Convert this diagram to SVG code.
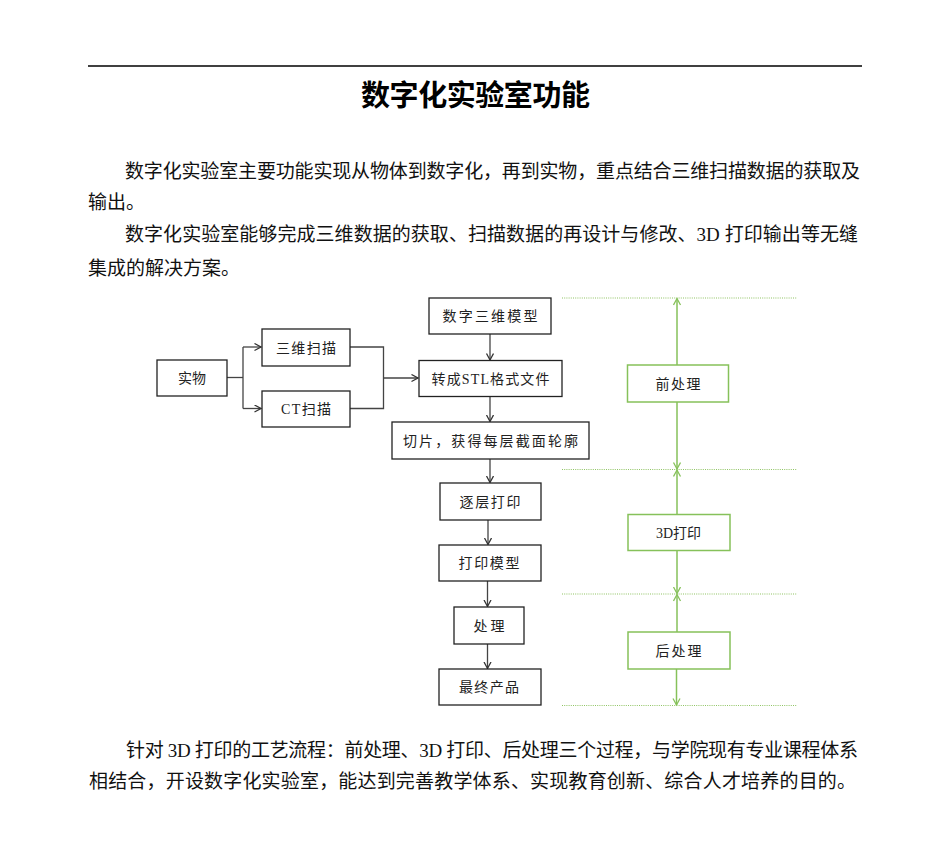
<svg xmlns="http://www.w3.org/2000/svg" width="950" height="856" viewBox="0 0 950 856">
<defs>
<style>
.body{font-family:"Liberation Serif","Noto Sans CJK SC",serif;font-size:19px;fill:#111;}
.title{font-family:"Noto Sans CJK SC",sans-serif;font-size:29px;font-weight:bold;fill:#000;}
.box{fill:#fff;stroke:#222;stroke-width:1.3;}
.gbox{fill:#fff;stroke:#86c15a;stroke-width:1.5;}
.lbl{font-family:"Liberation Serif","Noto Sans CJK SC",serif;font-size:14px;fill:#222;text-anchor:middle;}
.con{fill:none;stroke:#444;stroke-width:1.3;}
.gcon{fill:none;stroke:#86c15a;stroke-width:1.5;}
.dot{fill:none;stroke:#8fc463;stroke-width:1.2;stroke-dasharray:1 1.2;}
</style>
<marker id="ah" markerUnits="userSpaceOnUse" markerWidth="10" markerHeight="10" refX="7" refY="4" orient="auto">
<path d="M0.5,0.5 L7,4 L0.5,7.5" fill="none" stroke="#333" stroke-width="1.3"/>
</marker>
<marker id="gh" markerUnits="userSpaceOnUse" markerWidth="10" markerHeight="10" refX="7" refY="4" orient="auto-start-reverse">
<path d="M0.5,0.5 L7,4 L0.5,7.5" fill="none" stroke="#86c15a" stroke-width="1.3"/>
</marker>
</defs>
<rect width="950" height="856" fill="#fff"/>
<line x1="88" y1="66" x2="862" y2="66" stroke="#000" stroke-width="1.5"/>
<text class="title" x="475.5" y="106" text-anchor="middle" textLength="229" lengthAdjust="spacing">数字化实验室功能</text>
<g id="text">
<text class="body" x="125" y="178" textLength="735" lengthAdjust="spacing">数字化实验室主要功能实现从物体到数字化，再到实物，重点结合三维扫描数据的获取及</text>
<text class="body" x="88" y="209">输出。</text>
<text class="body" x="125" y="241" textLength="733" lengthAdjust="spacing">数字化实验室能够完成三维数据的获取、扫描数据的再设计与修改、3D 打印输出等无缝</text>
<text class="body" x="88" y="275">集成的解决方案。</text>
<text class="body" x="126" y="757" textLength="732" lengthAdjust="spacing">针对 3D 打印的工艺流程：前处理、3D 打印、后处理三个过程，与学院现有专业课程体系</text>
<text class="body" x="89" y="788" textLength="767" lengthAdjust="spacing">相结合，开设数字化实验室，能达到完善教学体系、实现教育创新、综合人才培养的目的。</text>
</g>
<g id="guides">
<line class="dot" x1="562" y1="298" x2="797" y2="298"/>
<line class="dot" x1="562" y1="469.5" x2="797" y2="469.5"/>
<line class="dot" x1="562" y1="594" x2="797" y2="594"/>
<line class="dot" x1="562" y1="705.5" x2="797" y2="705.5"/>
</g>
<g id="connectors">
<polyline class="con" points="227,377.5 243,377.5"/>
<polyline class="con" points="243,347 243,408.5"/>
<line class="con" x1="243" y1="347" x2="261" y2="347" marker-end="url(#ah)"/>
<line class="con" x1="243" y1="408.5" x2="261" y2="408.5" marker-end="url(#ah)"/>
<polyline class="con" points="350,347 383.5,347 383.5,408.5 350,408.5"/>
<line class="con" x1="383.5" y1="378" x2="418" y2="378" stroke-width="1.8" marker-end="url(#ah)"/>
<line class="con" x1="490" y1="334" x2="490" y2="360" marker-end="url(#ah)"/>
<line class="con" x1="490" y1="397" x2="490" y2="421.5" marker-end="url(#ah)"/>
<line class="con" x1="490" y1="459" x2="490" y2="482.5" marker-end="url(#ah)"/>
<line class="con" x1="488" y1="520" x2="488" y2="544.5" marker-end="url(#ah)"/>
<line class="con" x1="487.5" y1="581" x2="487.5" y2="606.5" marker-end="url(#ah)"/>
<line class="con" x1="487.5" y1="644" x2="487.5" y2="668.5" marker-end="url(#ah)"/>
<line class="gcon" x1="677" y1="365" x2="677" y2="298.5" marker-end="url(#gh)"/>
<line class="gcon" x1="677" y1="402" x2="677" y2="469" marker-end="url(#gh)"/>
<line class="gcon" x1="677" y1="514.5" x2="677" y2="470" marker-end="url(#gh)"/>
<line class="gcon" x1="677" y1="550.5" x2="677" y2="593.5" marker-end="url(#gh)"/>
<line class="gcon" x1="677" y1="632" x2="677" y2="594.5" marker-end="url(#gh)"/>
<line class="gcon" x1="676.5" y1="669" x2="676.5" y2="705" marker-end="url(#gh)"/>
</g>
<g id="n1"><rect class="box" x="157" y="360" width="70" height="36"/><text class="lbl" x="192" y="383" textLength="28" lengthAdjust="spacing">实物</text></g>
<g id="n2"><rect class="box" x="262" y="329" width="88" height="37"/><text class="lbl" x="306" y="352.5" textLength="60" lengthAdjust="spacing">三维扫描</text></g>
<g id="n3"><rect class="box" x="262" y="391" width="88" height="36"/><text class="lbl" x="306" y="414" textLength="50" lengthAdjust="spacing">CT扫描</text></g>
<g id="n4"><rect class="box" x="429" y="298" width="122" height="36"/><text class="lbl" x="490" y="321" textLength="95" lengthAdjust="spacing">数字三维模型</text></g>
<g id="n5"><rect class="box" x="419" y="360.5" width="143" height="36"/><text class="lbl" x="490.5" y="383.5" textLength="118" lengthAdjust="spacing">转成STL格式文件</text></g>
<g id="n6"><rect class="box" x="392" y="422" width="197" height="37"/><text class="lbl" x="490.5" y="445.5" textLength="175" lengthAdjust="spacing">切片，获得每层截面轮廓</text></g>
<g id="n7"><rect class="box" x="440" y="483" width="101" height="37"/><text class="lbl" x="490" y="506.5" textLength="61" lengthAdjust="spacing">逐层打印</text></g>
<g id="n8"><rect class="box" x="439" y="545" width="102" height="36"/><text class="lbl" x="489" y="568" textLength="61" lengthAdjust="spacing">打印模型</text></g>
<g id="n9"><rect class="box" x="454" y="607" width="70" height="37"/><text class="lbl" x="489" y="630.5" textLength="31" lengthAdjust="spacing">处理</text></g>
<g id="n10"><rect class="box" x="439" y="669" width="102" height="36"/><text class="lbl" x="489" y="692" textLength="60" lengthAdjust="spacing">最终产品</text></g>
<g id="g1"><rect class="gbox" x="627.5" y="365" width="101" height="37"/><text class="lbl" x="678" y="388.5" textLength="45" lengthAdjust="spacing">前处理</text></g>
<g id="g2"><rect class="gbox" x="628" y="514.5" width="102" height="36"/><text class="lbl" x="678.5" y="537.5" textLength="45" lengthAdjust="spacing">3D打印</text></g>
<g id="g3"><rect class="gbox" x="628" y="632" width="102" height="37"/><text class="lbl" x="678.5" y="655.5" textLength="46" lengthAdjust="spacing">后处理</text></g>
</svg>
